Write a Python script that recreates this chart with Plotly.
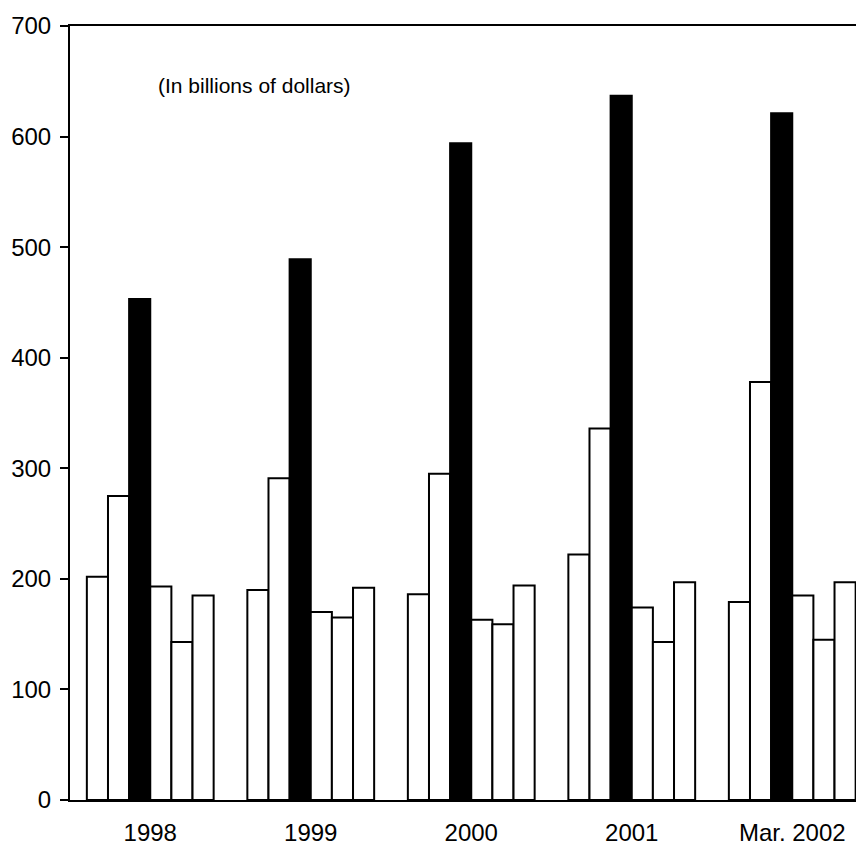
import plotly.graph_objects as go

categories = ["1998", "1999", "2000", "2001", "Mar. 2002"]
series1 = [202, 190, 186, 222, 179]
series2 = [275, 291, 295, 336, 378]
series3 = [453, 489, 594, 637, 621]
series4 = [193, 170, 163, 174, 185]
series5 = [143, 165, 159, 143, 145]
series6 = [185, 192, 194, 197, 197]
fills = ["white", "white", "black", "white", "white", "white"]
y_ticks = [0, 100, 200, 300, 400, 500, 600, 700]
note = "(In billions of dollars)"

fig = go.Figure()
for vals, fc in zip([series1, series2, series3, series4, series5, series6], fills):
    fig.add_trace(go.Bar(x=categories, y=vals, marker=dict(color=fc, line=dict(color="black", width=2)),
                         showlegend=False))

font = "Liberation Sans, Arial, sans-serif"
fig.update_layout(
    width=856, height=840,
    margin=dict(l=62, r=0, t=18, b=48),
    plot_bgcolor="white", paper_bgcolor="white",
    barmode="group", bargap=0.21, bargroupgap=0,
    font=dict(family=font, size=24, color="black"),
    xaxis=dict(type="category", range=[-0.5, 4.447], showline=True, linecolor="black", linewidth=2,
               mirror=True, ticks="outside", ticklen=10, tickcolor="rgba(0,0,0,0)",
               showgrid=False, tickfont=dict(size=24)),
    yaxis=dict(range=[0, 700], tickvals=y_ticks, showline=True, linecolor="black", linewidth=2,
               ticks="outside", ticklen=8, tickwidth=2, tickcolor="black", showgrid=False,
               zeroline=False, tickfont=dict(size=24), ticklabelstandoff=4),
    annotations=[dict(text=note, xref="paper", yref="y", x=0.232, y=646, xanchor="center",
                      yanchor="middle", showarrow=False,
                      font=dict(size=21, family=font, color="black"))],
)
fig.write_html("out.html")
